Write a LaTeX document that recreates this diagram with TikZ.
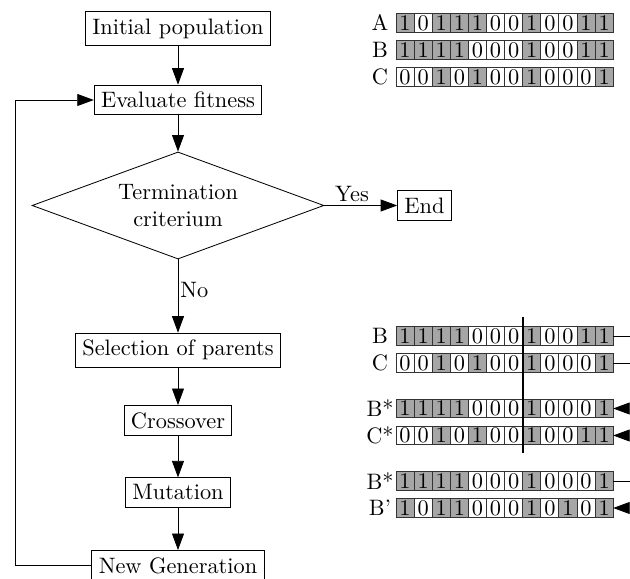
\documentclass[tikz,border=0pt]{standalone}
\usepackage{xcolor}
\usepackage{tikz}
\usetikzlibrary{shapes.geometric,arrows.meta}
\colorlet{bitcol0}{white}
\definecolor{bitcol1}{HTML}{A6A6A6}
\tikzset{
  box/.style={draw, fill=white},
  test/.style={draw, diamond, aspect=2.7, inner sep=1pt, align=center,
    minimum width=4.96cm, minimum height=1.82cm},
  arr/.style={-{Triangle[length=8pt,width=5.8pt]}},
  cell/.style={draw=black!80, inner sep=0pt, minimum width=0.3077cm,
    minimum height=0.316cm, fill=#1},
  cutline/.style={line width=0.8pt},
}
% #1 name, #2 label, #3 y, #4 bits
\newcommand\bitrow[4]{%
  \node (#1lab) at (380,#3) {#2};
  \foreach \bit [count=\i from 0] in {#4}
    \node[cell=bitcol\bit] at ({405.05+18.1*\i},#3) {\bit};
  \coordinate (#1) at (613.2,#3);
}

\begin{document}
\begin{tikzpicture}[x=0.017cm,y=-0.017cm,font=\fontsize{10.8}{13}\selectfont]
  \useasboundingbox (0,0) rectangle (630,579);
  \clip (0,0) rectangle (630,579);

  % flow chart
  \node[box] (init) at (178,28.5) {Initial population};
  \node[box] (eval) at (178,100) {Evaluate fitness};
  \node[test] (term) at (178,205.5) {Termination\\criterium};
  \node[box] (end) at (424.5,205.5) {End};
  \node[box] (sel) at (178,350) {Selection of parents};
  \node[box] (cross) at (178,420.5) {Crossover};
  \node[box] (mut) at (178,492.5) {Mutation};
  \node[box] (new) at (178,565.5) {New Generation};

  \draw[arr] (init) -- (eval);
  \draw[arr] (eval) -- (term);
  \draw[arr] (term) -- node[above,pos=0.38,inner sep=1.5pt] {Yes} (end);
  \draw[arr] (term) -- node[right,pos=0.42,inner sep=1pt] {No} (sel);
  \draw[arr] (sel) -- (cross);
  \draw[arr] (cross) -- (mut);
  \draw[arr] (mut) -- (new);
  \draw[arr] (new) -- ++(-163,0) |- (eval);

  % population
  \bitrow{pA}{A}{23}{1,0,1,1,1,0,0,1,0,0,1,1}
  \bitrow{pB}{B}{50}{1,1,1,1,0,0,0,1,0,0,1,1}
  \bitrow{pC}{C}{77}{0,0,1,0,1,0,0,1,0,0,0,1}

  % crossover
  \bitrow{xB}{B}{336}{1,1,1,1,0,0,0,1,0,0,1,1}
  \bitrow{xC}{C}{363}{0,0,1,0,1,0,0,1,0,0,0,1}
  \bitrow{cB}{B*}{408.5}{1,1,1,1,0,0,0,1,0,0,0,1}
  \bitrow{cC}{C*}{435.5}{0,0,1,0,1,0,0,1,0,0,1,1}
  \draw[cutline] (522.7,317) -- (522.7,453);
  \draw[arr] (xB) -- ++(30,0) |- (cB);
  \draw[arr] (xC) -- ++(40,0) |- (cC);

  % mutation
  \bitrow{mB}{B*}{481}{1,1,1,1,0,0,0,1,0,0,0,1}
  \bitrow{mBp}{B'}{508}{1,0,1,1,0,0,0,1,0,1,0,1}
  \draw[arr] (mB) -- ++(30,0) |- (mBp);
\end{tikzpicture}
\end{document}
